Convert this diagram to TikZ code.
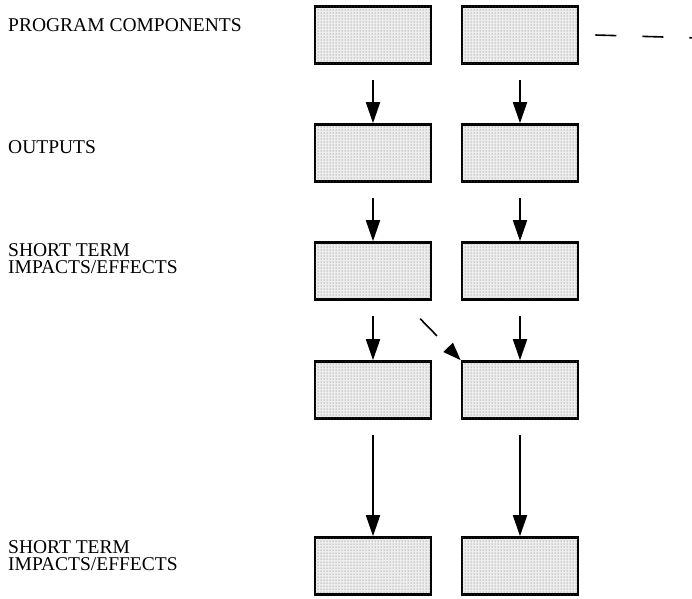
\documentclass[tikz,border=0pt]{standalone}
\usepackage{fontspec}
\setmainfont{Liberation Serif}
\usetikzlibrary{arrows.meta,patterns,calc}

\begin{document}
\begin{tikzpicture}[x=1pt,y=-1pt,
  blk/.style={draw,line width=2.6pt,minimum width=116pt,minimum height=57pt,inner sep=0pt,
    fill=black!7,postaction={pattern=dots,pattern color=black!60}},
  lbl/.style={anchor=west,inner sep=0pt,align=left,font=\fontsize{19.5}{17}\selectfont},
  flow/.style={line width=1.8pt,shorten <=15pt,-{Triangle[length=21pt,width=14pt]}}]
  \useasboundingbox (0,0) rectangle (692,598);
  \foreach \r/\y in {1/35,2/153,3/271,4/390,5/566}{\node[blk] (b\r l) at (373,\y) {}; \node[blk] (b\r r) at (520,\y) {};}
  \node[lbl] (l1) at (8,25) {PROGRAM COMPONENTS};
  \node[lbl] (l2) at (8,147) {OUTPUTS};
  \node[lbl] (l3) at (8,259) {SHORT TERM\\IMPACTS/EFFECTS};
  \node[lbl] (l5) at (8,556) {SHORT TERM\\IMPACTS/EFFECTS};
  \foreach \a/\b in {1/2,2/3,3/4,4/5}{\draw[flow] (b\a l.south) -- (b\b l.north); \draw[flow] (b\a r.south) -- (b\b r.north);}
  % cross link and continuation
  \coordinate (more) at (698,38);
  \draw[line width=1.6pt,dash pattern=on 21pt off 26pt] ([xshift=16pt]b1r.east) -- (more);
  \draw[line width=1.6pt,dash pattern=on 0pt off 25pt on 24pt off 200pt,-{Triangle[length=18pt,width=13pt]}]
    ($(b3l.south east)!0.5!(b3l.south)$) -- (b4r.north west);
\end{tikzpicture}
\end{document}
